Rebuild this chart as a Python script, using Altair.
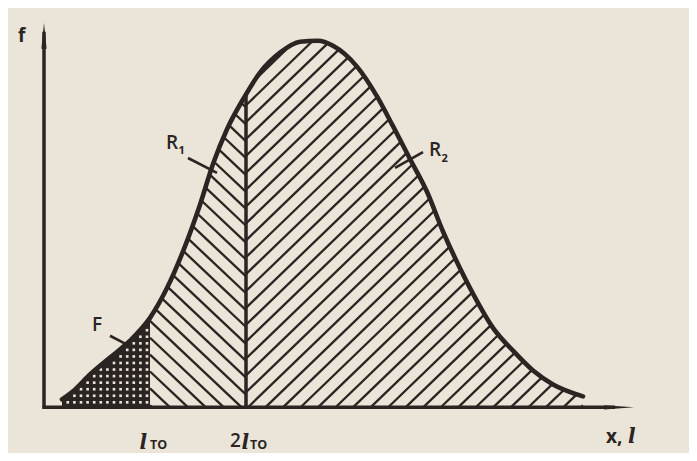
import numpy as np
import pandas as pd
import altair as alt

# ---- data (units: 1 unit = l_TO-ish scale) ----
curve_x = [0.18, 0.30, 0.46, 0.66, 0.86, 1.06, 1.23, 1.39, 1.56, 1.69, 1.83, 1.99, 2.16, 2.36, 2.56,
           2.74, 2.89, 3.13, 3.33, 3.49, 3.66, 3.83, 3.99, 4.16, 4.33, 4.49, 4.69, 4.89, 5.09, 5.39]
curve_y = [0.08, 0.17, 0.33, 0.50, 0.67, 0.90, 1.20, 1.57, 2.04, 2.45, 2.80, 3.10, 3.37, 3.57, 3.68,
           3.69, 3.64, 3.43, 3.13, 2.83, 2.50, 2.17, 1.77, 1.40, 1.07, 0.80, 0.57, 0.37, 0.23, 0.11]
l_to = 1.06
two_l_to = 2.02
x_axis_end = 5.71
y_axis_end = 3.78
x_arrow = 5.75
y_arrow = 3.74

label_text = ["f", "F", "R", "R", "2", "x,"]
label_x = [-0.26, 0.48, 1.22, 3.85, 1.86, 5.62]
label_y = [3.68, 0.77, 2.60, 2.53, -0.40, -0.36]
label_weight = ["bold", "normal", "normal", "normal", "normal", "bold"]

sub_text = ["1", "2", "TO", "TO"]
sub_x = [1.345, 3.975, 1.06, 2.06]
sub_y = [2.55, 2.47, -0.42, -0.42]
sub_size = [11, 11, 12.5, 12.5]

ital_text = ["l", "l", "l"]
ital_x = [0.955, 1.975, 5.84]
ital_y = [-0.42, -0.42, -0.36]

leader_x0 = [0.66, 1.44, 3.79]
leader_y0 = [0.72, 2.51, 2.57]
leader_x1 = [0.83, 1.73, 3.51]
leader_y1 = [0.63, 2.36, 2.41]

INK = "#2a2522"
BG = "#ebe4d8"

cx = np.array(curve_x)
cy = np.array(curve_y)


def hatch(x_lo, x_hi, slope, spacing):
    xs = np.arange(x_lo, x_hi + 1e-9, 0.002)
    top = np.interp(xs, cx, cy)
    c_min = min(-slope * x_lo, -slope * x_hi) - 1
    c_max = max(top.max() - slope * x_lo, top.max() - slope * x_hi) + 1
    rows = []
    for c in np.arange(c_min, c_max, spacing):
        ys = c + slope * xs
        m = (ys >= 0) & (ys <= top)
        if m.sum() > 2:
            idx = np.where(m)[0]
            i0, i1 = idx[0], idx[-1]
            rows.append(dict(x0=xs[i0], y0=ys[i0], x1=xs[i1], y1=ys[i1]))
    return rows


hatch_rows = hatch(l_to, two_l_to, -0.95, 0.17) + hatch(two_l_to, cx[-1], 0.97, 0.17)
hatch_df = pd.DataFrame(hatch_rows)

curve_df = pd.DataFrame({"x": curve_x, "y": curve_y})
f_df = curve_df[curve_df.x <= l_to + 1e-9].copy()
f_df["y0"] = 0.0

# stipple dots inside F region
dots = []
step = 0.066
for gx in np.arange(l_to - 0.03, cx[0], -step):
    top = float(np.interp(gx, cx, cy))
    for gy in np.arange(0.05, top, step):
        if gy <= top - 0.04:
            dots.append(dict(x=gx, y=gy))
dots_df = pd.DataFrame(dots)

xs_ = alt.Scale(domain=[-0.36, 6.45], nice=False, zero=False)
ys_ = alt.Scale(domain=[-0.43, 4.02], nice=False, zero=False)
X = lambda f: alt.X(f, type="quantitative", scale=xs_, axis=None)
Y = lambda f: alt.Y(f, type="quantitative", scale=ys_, axis=None)

f_area = alt.Chart(f_df).mark_area(color=INK, interpolate="monotone", opacity=1).encode(
    x=X("x"), y=Y("y"), y2="y0")

dots_layer = alt.Chart(dots_df).mark_square(color=BG, size=7, opacity=1, strokeWidth=0).encode(
    x=X("x"), y=Y("y"))

hatch_layer = alt.Chart(hatch_df).mark_rule(color=INK, strokeWidth=2.3).encode(
    x=X("x0"), y=Y("y0"), x2="x1", y2="y1")

vline_df = pd.DataFrame({"x": [two_l_to], "y0": [0.0], "y1": [float(np.interp(two_l_to, cx, cy))]})
vline = alt.Chart(vline_df).mark_rule(color=INK, strokeWidth=3.5).encode(
    x=X("x"), y=Y("y0"), y2="y1")

axes_df = pd.DataFrame({"x0": [0.0, -0.015], "y0": [-0.015, 0.0],
                        "x1": [0.0, x_axis_end], "y1": [y_axis_end, 0.0]})
axes = alt.Chart(axes_df).mark_rule(color=INK, strokeWidth=3.5).encode(
    x=X("x0"), y=Y("y0"), x2="x1", y2="y1")

curve = alt.Chart(curve_df).mark_line(color=INK, strokeWidth=4.6, interpolate="monotone",
                                      strokeCap="round").encode(x=X("x"), y=Y("y"))

arrow_up = alt.Chart(pd.DataFrame({"x": [0.0], "y": [y_arrow]})).mark_point(
    shape="M0,-1L0.2,1L-0.2,1Z", size=676, filled=True, color=INK, opacity=1, strokeWidth=0
).encode(x=X("x"), y=Y("y"))
arrow_right = alt.Chart(pd.DataFrame({"x": [x_arrow], "y": [0.0]})).mark_point(
    shape="M1,0L-1,0.14L-1,-0.14Z", size=900, filled=True, color=INK, opacity=1, strokeWidth=0
).encode(x=X("x"), y=Y("y"))

leaders = alt.Chart(pd.DataFrame({"x0": leader_x0, "y0": leader_y0, "x1": leader_x1, "y1": leader_y1})
                    ).mark_rule(color=INK, strokeWidth=2.6).encode(
    x=X("x0"), y=Y("y0"), x2="x1", y2="y1")

lab_df = pd.DataFrame({"t": label_text, "x": label_x, "y": label_y, "w": label_weight})
labels_n = alt.Chart(lab_df[lab_df.w == "normal"]).mark_text(
    font="Open Sans", fontWeight=600, fontSize=19, align="left", baseline="alphabetic", color=INK
).encode(x=X("x"), y=Y("y"), text="t")
labels_b = alt.Chart(lab_df[lab_df.w == "bold"]).mark_text(
    font="Open Sans", fontWeight="bold", fontSize=19, align="left", baseline="alphabetic", color=INK
).encode(x=X("x"), y=Y("y"), text="t")

subs = alt.Chart(pd.DataFrame({"t": sub_text, "x": sub_x, "y": sub_y, "s": sub_size})).mark_text(
    font="Open Sans", fontWeight="bold", align="left", baseline="alphabetic", color=INK
).encode(x=X("x"), y=Y("y"), text="t", size=alt.Size("s:Q", scale=None, legend=None))

itals = alt.Chart(pd.DataFrame({"t": ital_text, "x": ital_x, "y": ital_y})).mark_text(
    font="DejaVu Serif", fontStyle="italic", fontWeight="bold", fontSize=20, align="left",
    baseline="alphabetic", color=INK
).encode(x=X("x"), y=Y("y"), text="t")

chart = alt.layer(
    f_area, dots_layer, hatch_layer, vline, axes, curve, arrow_up, arrow_right, leaders,
    labels_n, labels_b, subs, itals
).properties(
    width=681, height=445, padding=0, background=BG,
    autosize=alt.AutoSizeParams(type="fit", contains="padding")
).configure_view(stroke=None)

chart.save("out.html", embed_options={"renderer": "svg", "actions": False})
